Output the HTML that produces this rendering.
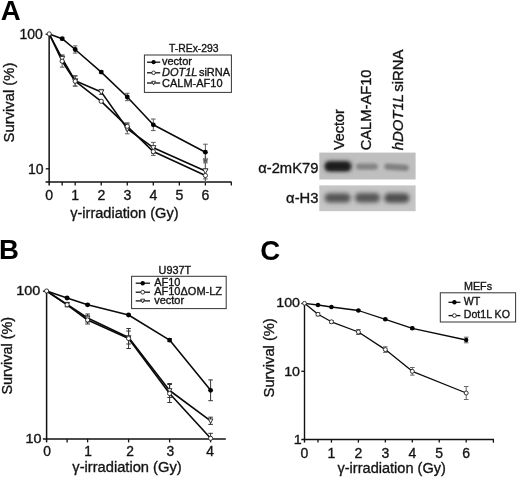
<!DOCTYPE html>
<html><head><meta charset="utf-8"><title>Figure</title>
<style>html,body{margin:0;padding:0;background:#fff}body{width:520px;height:479px;overflow:hidden}svg{display:block}svg text{font-family:"Liberation Sans",Arial,Helvetica,sans-serif}</style>
</head><body>
<svg width="520" height="479" viewBox="0 0 520 479">
<defs><filter id="b1" x="-20%" y="-50%" width="140%" height="200%"><feGaussianBlur stdDeviation="1.8"/></filter><filter id="b2" x="-20%" y="-50%" width="140%" height="200%"><feGaussianBlur stdDeviation="2.0"/></filter><filter id="b3" x="-30%" y="-60%" width="160%" height="220%"><feGaussianBlur stdDeviation="2.2"/></filter></defs>
<rect width="520" height="479" fill="#fff"/>
<text transform="translate(0.70,19.80)" font-size="27.6" text-anchor="start" font-weight="bold" fill="#000" >A</text>
<text transform="translate(-1.00,259.00)" font-size="27.6" text-anchor="start" font-weight="bold" fill="#000" >B</text>
<text transform="translate(260.30,259.60)" font-size="27.6" text-anchor="start" font-weight="bold" fill="#000" >C</text>
<line x1="49.15" y1="33.50" x2="49.15" y2="185.50" stroke="#111" stroke-width="1.5" stroke-linecap="butt"/>
<line x1="45.55" y1="182.00" x2="231.60" y2="182.00" stroke="#111" stroke-width="1.5" stroke-linecap="butt"/>
<line x1="62.17" y1="182.00" x2="62.17" y2="185.50" stroke="#111" stroke-width="1.3" stroke-linecap="butt"/>
<line x1="75.19" y1="182.00" x2="75.19" y2="185.50" stroke="#111" stroke-width="1.3" stroke-linecap="butt"/>
<line x1="101.23" y1="182.00" x2="101.23" y2="185.50" stroke="#111" stroke-width="1.3" stroke-linecap="butt"/>
<line x1="127.27" y1="182.00" x2="127.27" y2="185.50" stroke="#111" stroke-width="1.3" stroke-linecap="butt"/>
<line x1="153.31" y1="182.00" x2="153.31" y2="185.50" stroke="#111" stroke-width="1.3" stroke-linecap="butt"/>
<line x1="179.35" y1="182.00" x2="179.35" y2="185.50" stroke="#111" stroke-width="1.3" stroke-linecap="butt"/>
<line x1="205.39" y1="182.00" x2="205.39" y2="185.50" stroke="#111" stroke-width="1.3" stroke-linecap="butt"/>
<line x1="231.30" y1="182.00" x2="231.30" y2="185.60" stroke="#111" stroke-width="1.3" stroke-linecap="butt"/>
<line x1="45.75" y1="168.80" x2="49.15" y2="168.80" stroke="#111" stroke-width="1.3" stroke-linecap="butt"/>
<line x1="45.55" y1="34.20" x2="49.15" y2="34.20" stroke="#111" stroke-width="1.3" stroke-linecap="butt"/>
<text transform="translate(49.25,199.80)" font-size="14.1" text-anchor="middle" fill="#111" stroke="#1a1a1a" stroke-width="0.35" >0</text>
<text transform="translate(75.29,199.80)" font-size="14.1" text-anchor="middle" fill="#111" stroke="#1a1a1a" stroke-width="0.35" >1</text>
<text transform="translate(101.33,199.80)" font-size="14.1" text-anchor="middle" fill="#111" stroke="#1a1a1a" stroke-width="0.35" >2</text>
<text transform="translate(127.37,199.80)" font-size="14.1" text-anchor="middle" fill="#111" stroke="#1a1a1a" stroke-width="0.35" >3</text>
<text transform="translate(153.41,199.80)" font-size="14.1" text-anchor="middle" fill="#111" stroke="#1a1a1a" stroke-width="0.35" >4</text>
<text transform="translate(179.45,199.80)" font-size="14.1" text-anchor="middle" fill="#111" stroke="#1a1a1a" stroke-width="0.35" >5</text>
<text transform="translate(205.49,199.80)" font-size="14.1" text-anchor="middle" fill="#111" stroke="#1a1a1a" stroke-width="0.35" >6</text>
<text transform="translate(42.90,38.60)" font-size="14" text-anchor="end" fill="#111" stroke="#1a1a1a" stroke-width="0.35" >100</text>
<text transform="translate(43.50,173.70)" font-size="14" text-anchor="end" fill="#111" stroke="#1a1a1a" stroke-width="0.35" >10</text>
<text transform="translate(13.80,142.40) rotate(-90)" font-size="14.8" text-anchor="start" fill="#111" stroke="#1a1a1a" stroke-width="0.35" >Survival (%)</text>
<text transform="translate(70.20,217.50)" font-size="14.55" text-anchor="start" fill="#111" stroke="#1a1a1a" stroke-width="0.35" >γ-irradiation (Gy)</text>
<line x1="62.17" y1="37.50" x2="62.17" y2="39.90" stroke="#5a5a5a" stroke-width="1.0" stroke-linecap="butt"/>
<line x1="59.87" y1="37.50" x2="64.47" y2="37.50" stroke="#5a5a5a" stroke-width="1.0" stroke-linecap="butt"/>
<line x1="59.87" y1="39.90" x2="64.47" y2="39.90" stroke="#5a5a5a" stroke-width="1.0" stroke-linecap="butt"/>
<line x1="75.19" y1="45.90" x2="75.19" y2="53.10" stroke="#5a5a5a" stroke-width="1.0" stroke-linecap="butt"/>
<line x1="72.89" y1="45.90" x2="77.49" y2="45.90" stroke="#5a5a5a" stroke-width="1.0" stroke-linecap="butt"/>
<line x1="72.89" y1="53.10" x2="77.49" y2="53.10" stroke="#5a5a5a" stroke-width="1.0" stroke-linecap="butt"/>
<line x1="101.23" y1="70.90" x2="101.23" y2="73.30" stroke="#5a5a5a" stroke-width="1.0" stroke-linecap="butt"/>
<line x1="98.93" y1="70.90" x2="103.53" y2="70.90" stroke="#5a5a5a" stroke-width="1.0" stroke-linecap="butt"/>
<line x1="98.93" y1="73.30" x2="103.53" y2="73.30" stroke="#5a5a5a" stroke-width="1.0" stroke-linecap="butt"/>
<line x1="127.27" y1="93.30" x2="127.27" y2="100.70" stroke="#5a5a5a" stroke-width="1.0" stroke-linecap="butt"/>
<line x1="124.97" y1="93.30" x2="129.57" y2="93.30" stroke="#5a5a5a" stroke-width="1.0" stroke-linecap="butt"/>
<line x1="124.97" y1="100.70" x2="129.57" y2="100.70" stroke="#5a5a5a" stroke-width="1.0" stroke-linecap="butt"/>
<line x1="153.31" y1="119.00" x2="153.31" y2="130.60" stroke="#5a5a5a" stroke-width="1.0" stroke-linecap="butt"/>
<line x1="151.01" y1="119.00" x2="155.61" y2="119.00" stroke="#5a5a5a" stroke-width="1.0" stroke-linecap="butt"/>
<line x1="151.01" y1="130.60" x2="155.61" y2="130.60" stroke="#5a5a5a" stroke-width="1.0" stroke-linecap="butt"/>
<line x1="205.39" y1="144.20" x2="205.39" y2="160.20" stroke="#5a5a5a" stroke-width="1.0" stroke-linecap="butt"/>
<line x1="203.09" y1="144.20" x2="207.69" y2="144.20" stroke="#5a5a5a" stroke-width="1.0" stroke-linecap="butt"/>
<line x1="203.09" y1="160.20" x2="207.69" y2="160.20" stroke="#5a5a5a" stroke-width="1.0" stroke-linecap="butt"/>
<line x1="62.17" y1="55.20" x2="62.17" y2="67.20" stroke="#5a5a5a" stroke-width="1.0" stroke-linecap="butt"/>
<line x1="59.87" y1="55.20" x2="64.47" y2="55.20" stroke="#5a5a5a" stroke-width="1.0" stroke-linecap="butt"/>
<line x1="59.87" y1="67.20" x2="64.47" y2="67.20" stroke="#5a5a5a" stroke-width="1.0" stroke-linecap="butt"/>
<line x1="75.19" y1="76.20" x2="75.19" y2="86.20" stroke="#5a5a5a" stroke-width="1.0" stroke-linecap="butt"/>
<line x1="72.89" y1="76.20" x2="77.49" y2="76.20" stroke="#5a5a5a" stroke-width="1.0" stroke-linecap="butt"/>
<line x1="72.89" y1="86.20" x2="77.49" y2="86.20" stroke="#5a5a5a" stroke-width="1.0" stroke-linecap="butt"/>
<line x1="101.23" y1="100.10" x2="101.23" y2="102.50" stroke="#5a5a5a" stroke-width="1.0" stroke-linecap="butt"/>
<line x1="98.93" y1="100.10" x2="103.53" y2="100.10" stroke="#5a5a5a" stroke-width="1.0" stroke-linecap="butt"/>
<line x1="98.93" y1="102.50" x2="103.53" y2="102.50" stroke="#5a5a5a" stroke-width="1.0" stroke-linecap="butt"/>
<line x1="127.27" y1="122.80" x2="127.27" y2="129.80" stroke="#5a5a5a" stroke-width="1.0" stroke-linecap="butt"/>
<line x1="124.97" y1="122.80" x2="129.57" y2="122.80" stroke="#5a5a5a" stroke-width="1.0" stroke-linecap="butt"/>
<line x1="124.97" y1="129.80" x2="129.57" y2="129.80" stroke="#5a5a5a" stroke-width="1.0" stroke-linecap="butt"/>
<line x1="153.31" y1="147.80" x2="153.31" y2="155.40" stroke="#5a5a5a" stroke-width="1.0" stroke-linecap="butt"/>
<line x1="151.01" y1="147.80" x2="155.61" y2="147.80" stroke="#5a5a5a" stroke-width="1.0" stroke-linecap="butt"/>
<line x1="151.01" y1="155.40" x2="155.61" y2="155.40" stroke="#5a5a5a" stroke-width="1.0" stroke-linecap="butt"/>
<line x1="205.39" y1="169.00" x2="205.39" y2="182.00" stroke="#5a5a5a" stroke-width="1.0" stroke-linecap="butt"/>
<line x1="203.09" y1="169.00" x2="207.69" y2="169.00" stroke="#5a5a5a" stroke-width="1.0" stroke-linecap="butt"/>
<line x1="203.09" y1="182.00" x2="207.69" y2="182.00" stroke="#5a5a5a" stroke-width="1.0" stroke-linecap="butt"/>
<line x1="62.17" y1="55.00" x2="62.17" y2="62.00" stroke="#5a5a5a" stroke-width="1.0" stroke-linecap="butt"/>
<line x1="59.87" y1="55.00" x2="64.47" y2="55.00" stroke="#5a5a5a" stroke-width="1.0" stroke-linecap="butt"/>
<line x1="59.87" y1="62.00" x2="64.47" y2="62.00" stroke="#5a5a5a" stroke-width="1.0" stroke-linecap="butt"/>
<line x1="75.19" y1="75.60" x2="75.19" y2="86.00" stroke="#5a5a5a" stroke-width="1.0" stroke-linecap="butt"/>
<line x1="72.89" y1="75.60" x2="77.49" y2="75.60" stroke="#5a5a5a" stroke-width="1.0" stroke-linecap="butt"/>
<line x1="72.89" y1="86.00" x2="77.49" y2="86.00" stroke="#5a5a5a" stroke-width="1.0" stroke-linecap="butt"/>
<line x1="101.23" y1="89.40" x2="101.23" y2="94.40" stroke="#5a5a5a" stroke-width="1.0" stroke-linecap="butt"/>
<line x1="98.93" y1="89.40" x2="103.53" y2="89.40" stroke="#5a5a5a" stroke-width="1.0" stroke-linecap="butt"/>
<line x1="98.93" y1="94.40" x2="103.53" y2="94.40" stroke="#5a5a5a" stroke-width="1.0" stroke-linecap="butt"/>
<line x1="127.27" y1="123.80" x2="127.27" y2="133.80" stroke="#5a5a5a" stroke-width="1.0" stroke-linecap="butt"/>
<line x1="124.97" y1="123.80" x2="129.57" y2="123.80" stroke="#5a5a5a" stroke-width="1.0" stroke-linecap="butt"/>
<line x1="124.97" y1="133.80" x2="129.57" y2="133.80" stroke="#5a5a5a" stroke-width="1.0" stroke-linecap="butt"/>
<line x1="153.31" y1="142.40" x2="153.31" y2="153.00" stroke="#5a5a5a" stroke-width="1.0" stroke-linecap="butt"/>
<line x1="151.01" y1="142.40" x2="155.61" y2="142.40" stroke="#5a5a5a" stroke-width="1.0" stroke-linecap="butt"/>
<line x1="151.01" y1="153.00" x2="155.61" y2="153.00" stroke="#5a5a5a" stroke-width="1.0" stroke-linecap="butt"/>
<line x1="205.39" y1="162.90" x2="205.39" y2="178.90" stroke="#5a5a5a" stroke-width="1.0" stroke-linecap="butt"/>
<line x1="203.09" y1="162.90" x2="207.69" y2="162.90" stroke="#5a5a5a" stroke-width="1.0" stroke-linecap="butt"/>
<line x1="203.09" y1="178.90" x2="207.69" y2="178.90" stroke="#5a5a5a" stroke-width="1.0" stroke-linecap="butt"/>
<line x1="205.39" y1="150.00" x2="205.39" y2="181.50" stroke="#666" stroke-width="0.9" stroke-linecap="butt"/>
<polyline fill="none" stroke="#0a0a0a" stroke-width="1.6" stroke-linejoin="round" points="49.20,33.90 62.17,38.70 75.19,49.50 101.23,72.10 127.27,97.00 153.31,124.80 205.39,152.20"/>
<polyline fill="none" stroke="#0a0a0a" stroke-width="1.6" stroke-linejoin="round" points="49.20,33.90 62.17,61.20 75.19,81.20 101.23,101.30 127.27,126.30 153.31,151.60 205.39,175.50"/>
<polyline fill="none" stroke="#0a0a0a" stroke-width="1.6" stroke-linejoin="round" points="49.20,33.90 62.17,58.50 75.19,80.80 101.23,91.90 127.27,128.80 153.31,147.70 205.39,170.90"/>
<polygon points="59.57,56.42 64.77,56.42 62.17,61.36" fill="#fff" stroke="#222" stroke-width="0.9"/>
<polygon points="72.59,78.72 77.79,78.72 75.19,83.66" fill="#fff" stroke="#222" stroke-width="0.9"/>
<polygon points="98.63,89.82 103.83,89.82 101.23,94.76" fill="#fff" stroke="#222" stroke-width="0.9"/>
<polygon points="124.67,126.72 129.87,126.72 127.27,131.66" fill="#fff" stroke="#222" stroke-width="0.9"/>
<polygon points="150.71,145.62 155.91,145.62 153.31,150.56" fill="#fff" stroke="#222" stroke-width="0.9"/>
<polygon points="202.79,168.82 207.99,168.82 205.39,173.76" fill="#fff" stroke="#222" stroke-width="0.9"/>
<circle cx="62.17" cy="61.20" r="2.1" fill="#fff" stroke="#222" stroke-width="0.9"/>
<circle cx="75.19" cy="81.20" r="2.1" fill="#fff" stroke="#222" stroke-width="0.9"/>
<circle cx="101.23" cy="101.30" r="2.1" fill="#fff" stroke="#222" stroke-width="0.9"/>
<circle cx="127.27" cy="126.30" r="2.1" fill="#fff" stroke="#222" stroke-width="0.9"/>
<circle cx="153.31" cy="151.60" r="2.1" fill="#fff" stroke="#222" stroke-width="0.9"/>
<circle cx="205.39" cy="175.50" r="2.1" fill="#fff" stroke="#222" stroke-width="0.9"/>
<circle cx="62.17" cy="38.70" r="2.4" fill="#000"/>
<circle cx="75.19" cy="49.50" r="2.4" fill="#000"/>
<circle cx="101.23" cy="72.10" r="2.4" fill="#000"/>
<circle cx="127.27" cy="97.00" r="2.4" fill="#000"/>
<circle cx="153.31" cy="124.80" r="2.4" fill="#000"/>
<circle cx="205.39" cy="152.20" r="2.4" fill="#000"/>
<circle cx="49.20" cy="33.90" r="2.1" fill="#fff" stroke="#222" stroke-width="0.9"/>
<text transform="translate(205.40,167.00)" font-size="14" text-anchor="middle" fill="#8a8a8a" stroke="#1a1a1a" stroke-width="0.35" >*</text>
<rect x="144.4" y="55.0" width="87.0" height="37.4" fill="#fff" stroke="#333" stroke-width="1"/>
<text transform="translate(193.80,51.50)" font-size="10.4" text-anchor="middle" fill="#111" stroke="#1a1a1a" stroke-width="0.35" >T-REx-293</text>
<line x1="147.00" y1="62.20" x2="160.20" y2="62.20" stroke="#111" stroke-width="1.3" stroke-linecap="butt"/>
<line x1="147.00" y1="72.80" x2="160.20" y2="72.80" stroke="#111" stroke-width="1.3" stroke-linecap="butt"/>
<line x1="147.00" y1="83.00" x2="160.20" y2="83.00" stroke="#111" stroke-width="1.3" stroke-linecap="butt"/>
<circle cx="153.60" cy="62.20" r="2.1" fill="#000"/>
<circle cx="153.60" cy="72.80" r="1.8" fill="#fff" stroke="#222" stroke-width="0.9"/>
<polygon points="151.70,81.28 155.50,81.28 153.60,84.89" fill="#fff" stroke="#222" stroke-width="0.9"/>
<text transform="translate(162.00,64.70)" font-size="11" text-anchor="start" fill="#111" stroke="#1a1a1a" stroke-width="0.35" >vector</text>
<text transform="translate(162.00,76.40)" font-size="11" text-anchor="start" fill="#111" stroke="#1a1a1a" stroke-width="0.35" ><tspan font-style="italic">DOT1L</tspan><tspan dx="-1.6"> siRNA</tspan></text>
<text transform="translate(162.00,87.10)" font-size="11" text-anchor="start" fill="#111" stroke="#1a1a1a" stroke-width="0.35" >CALM-AF10</text>
<rect x="319.3" y="152.6" width="96.3" height="26.9" fill="#bfbfbf"/>
<rect x="319.3" y="185.4" width="96.3" height="25.8" fill="#c5c5c5"/>
<g filter="url(#b3)">
<rect x="324.5" y="161.0" width="27.5" height="10.6" rx="5" fill="#4a4a4a"/>
</g><g filter="url(#b1)">
<rect x="325.5" y="162.2" width="24.5" height="8.2" rx="4" fill="#1c1c1c"/>
<rect x="356.0" y="163.4" width="21.8" height="6.4" rx="3" fill="#848484"/>
<rect x="384.3" y="164.0" width="24.5" height="6.4" rx="3" fill="#808080" transform="rotate(4 396 167)"/>
</g><g filter="url(#b2)">
<rect x="324.6" y="193.2" width="26.0" height="9.4" rx="4.5" fill="#545454"/>
<rect x="355.0" y="193.0" width="25.0" height="9.6" rx="4.5" fill="#565656"/>
<rect x="384.2" y="193.2" width="25.2" height="9.6" rx="4.5" fill="#4e4e4e"/>
</g>
<text transform="translate(344.10,150.00) rotate(-90)" font-size="14.45" text-anchor="start" fill="#111" stroke="#1a1a1a" stroke-width="0.35" >Vector</text>
<text transform="translate(371.20,150.30) rotate(-90)" font-size="14.7" text-anchor="start" fill="#111" stroke="#1a1a1a" stroke-width="0.35" >CALM-AF10</text>
<text transform="translate(402.90,150.30) rotate(-90)" font-size="14.9" text-anchor="start" fill="#111" stroke="#1a1a1a" stroke-width="0.35" ><tspan font-style="italic">hDOT1L</tspan><tspan dx="-1.8"> siRNA</tspan></text>
<text transform="translate(318.40,172.60)" font-size="14.75" text-anchor="end" fill="#111" stroke="#1a1a1a" stroke-width="0.35" >α-2mK79</text>
<text transform="translate(318.40,203.40)" font-size="14.75" text-anchor="end" fill="#111" stroke="#1a1a1a" stroke-width="0.35" >α-H3</text>
<line x1="46.60" y1="290.50" x2="46.60" y2="442.40" stroke="#111" stroke-width="1.5" stroke-linecap="butt"/>
<line x1="42.90" y1="438.90" x2="225.80" y2="438.90" stroke="#111" stroke-width="1.5" stroke-linecap="butt"/>
<line x1="67.10" y1="438.90" x2="67.10" y2="442.40" stroke="#111" stroke-width="1.3" stroke-linecap="butt"/>
<line x1="87.60" y1="438.90" x2="87.60" y2="442.40" stroke="#111" stroke-width="1.3" stroke-linecap="butt"/>
<line x1="128.60" y1="438.90" x2="128.60" y2="442.40" stroke="#111" stroke-width="1.3" stroke-linecap="butt"/>
<line x1="169.60" y1="438.90" x2="169.60" y2="442.40" stroke="#111" stroke-width="1.3" stroke-linecap="butt"/>
<line x1="210.60" y1="438.90" x2="210.60" y2="442.40" stroke="#111" stroke-width="1.3" stroke-linecap="butt"/>
<line x1="42.90" y1="291.20" x2="46.60" y2="291.20" stroke="#111" stroke-width="1.3" stroke-linecap="butt"/>
<text transform="translate(47.10,456.00)" font-size="13.8" text-anchor="middle" fill="#111" stroke="#1a1a1a" stroke-width="0.35" >0</text>
<text transform="translate(88.00,456.00)" font-size="13.8" text-anchor="middle" fill="#111" stroke="#1a1a1a" stroke-width="0.35" >1</text>
<text transform="translate(130.20,456.00)" font-size="13.8" text-anchor="middle" fill="#111" stroke="#1a1a1a" stroke-width="0.35" >2</text>
<text transform="translate(170.40,456.00)" font-size="13.8" text-anchor="middle" fill="#111" stroke="#1a1a1a" stroke-width="0.35" >3</text>
<text transform="translate(210.20,456.00)" font-size="13.8" text-anchor="middle" fill="#111" stroke="#1a1a1a" stroke-width="0.35" >4</text>
<text transform="translate(40.30,295.40) scale(1.2,1.0)" font-size="12" text-anchor="end" fill="#111" stroke="#1a1a1a" stroke-width="0.35" >100</text>
<text transform="translate(41.50,442.70) scale(1.2,1.0)" font-size="12" text-anchor="end" fill="#111" stroke="#1a1a1a" stroke-width="0.35" >10</text>
<text transform="translate(12.20,394.50) rotate(-90)" font-size="14.4" text-anchor="start" fill="#111" stroke="#1a1a1a" stroke-width="0.35" >Survival (%)</text>
<text transform="translate(72.30,472.00)" font-size="14.7" text-anchor="start" fill="#111" stroke="#1a1a1a" stroke-width="0.35" >γ-irradiation (Gy)</text>
<line x1="67.10" y1="297.20" x2="67.10" y2="298.80" stroke="#333" stroke-width="1.0" stroke-linecap="butt"/>
<line x1="64.80" y1="297.20" x2="69.40" y2="297.20" stroke="#333" stroke-width="1.0" stroke-linecap="butt"/>
<line x1="64.80" y1="298.80" x2="69.40" y2="298.80" stroke="#333" stroke-width="1.0" stroke-linecap="butt"/>
<line x1="87.60" y1="304.00" x2="87.60" y2="305.60" stroke="#333" stroke-width="1.0" stroke-linecap="butt"/>
<line x1="85.30" y1="304.00" x2="89.90" y2="304.00" stroke="#333" stroke-width="1.0" stroke-linecap="butt"/>
<line x1="85.30" y1="305.60" x2="89.90" y2="305.60" stroke="#333" stroke-width="1.0" stroke-linecap="butt"/>
<line x1="128.60" y1="314.20" x2="128.60" y2="315.80" stroke="#333" stroke-width="1.0" stroke-linecap="butt"/>
<line x1="126.30" y1="314.20" x2="130.90" y2="314.20" stroke="#333" stroke-width="1.0" stroke-linecap="butt"/>
<line x1="126.30" y1="315.80" x2="130.90" y2="315.80" stroke="#333" stroke-width="1.0" stroke-linecap="butt"/>
<line x1="169.60" y1="338.60" x2="169.60" y2="341.60" stroke="#333" stroke-width="1.0" stroke-linecap="butt"/>
<line x1="167.30" y1="338.60" x2="171.90" y2="338.60" stroke="#333" stroke-width="1.0" stroke-linecap="butt"/>
<line x1="167.30" y1="341.60" x2="171.90" y2="341.60" stroke="#333" stroke-width="1.0" stroke-linecap="butt"/>
<line x1="210.60" y1="379.90" x2="210.60" y2="400.70" stroke="#333" stroke-width="1.0" stroke-linecap="butt"/>
<line x1="208.30" y1="379.90" x2="212.90" y2="379.90" stroke="#333" stroke-width="1.0" stroke-linecap="butt"/>
<line x1="208.30" y1="400.70" x2="212.90" y2="400.70" stroke="#333" stroke-width="1.0" stroke-linecap="butt"/>
<line x1="67.10" y1="302.80" x2="67.10" y2="306.80" stroke="#333" stroke-width="1.0" stroke-linecap="butt"/>
<line x1="64.80" y1="302.80" x2="69.40" y2="302.80" stroke="#333" stroke-width="1.0" stroke-linecap="butt"/>
<line x1="64.80" y1="306.80" x2="69.40" y2="306.80" stroke="#333" stroke-width="1.0" stroke-linecap="butt"/>
<line x1="87.60" y1="316.00" x2="87.60" y2="324.00" stroke="#333" stroke-width="1.0" stroke-linecap="butt"/>
<line x1="85.30" y1="316.00" x2="89.90" y2="316.00" stroke="#333" stroke-width="1.0" stroke-linecap="butt"/>
<line x1="85.30" y1="324.00" x2="89.90" y2="324.00" stroke="#333" stroke-width="1.0" stroke-linecap="butt"/>
<line x1="128.60" y1="328.50" x2="128.60" y2="348.50" stroke="#333" stroke-width="1.0" stroke-linecap="butt"/>
<line x1="126.30" y1="328.50" x2="130.90" y2="328.50" stroke="#333" stroke-width="1.0" stroke-linecap="butt"/>
<line x1="126.30" y1="348.50" x2="130.90" y2="348.50" stroke="#333" stroke-width="1.0" stroke-linecap="butt"/>
<line x1="169.60" y1="384.50" x2="169.60" y2="402.50" stroke="#333" stroke-width="1.0" stroke-linecap="butt"/>
<line x1="167.30" y1="384.50" x2="171.90" y2="384.50" stroke="#333" stroke-width="1.0" stroke-linecap="butt"/>
<line x1="167.30" y1="402.50" x2="171.90" y2="402.50" stroke="#333" stroke-width="1.0" stroke-linecap="butt"/>
<line x1="210.60" y1="433.30" x2="210.60" y2="438.30" stroke="#333" stroke-width="1.0" stroke-linecap="butt"/>
<line x1="208.30" y1="433.30" x2="212.90" y2="433.30" stroke="#333" stroke-width="1.0" stroke-linecap="butt"/>
<line x1="208.30" y1="438.30" x2="212.90" y2="438.30" stroke="#333" stroke-width="1.0" stroke-linecap="butt"/>
<line x1="67.10" y1="302.40" x2="67.10" y2="306.40" stroke="#333" stroke-width="1.0" stroke-linecap="butt"/>
<line x1="64.80" y1="302.40" x2="69.40" y2="302.40" stroke="#333" stroke-width="1.0" stroke-linecap="butt"/>
<line x1="64.80" y1="306.40" x2="69.40" y2="306.40" stroke="#333" stroke-width="1.0" stroke-linecap="butt"/>
<line x1="87.60" y1="314.00" x2="87.60" y2="322.00" stroke="#333" stroke-width="1.0" stroke-linecap="butt"/>
<line x1="85.30" y1="314.00" x2="89.90" y2="314.00" stroke="#333" stroke-width="1.0" stroke-linecap="butt"/>
<line x1="85.30" y1="322.00" x2="89.90" y2="322.00" stroke="#333" stroke-width="1.0" stroke-linecap="butt"/>
<line x1="128.60" y1="331.00" x2="128.60" y2="344.00" stroke="#333" stroke-width="1.0" stroke-linecap="butt"/>
<line x1="126.30" y1="331.00" x2="130.90" y2="331.00" stroke="#333" stroke-width="1.0" stroke-linecap="butt"/>
<line x1="126.30" y1="344.00" x2="130.90" y2="344.00" stroke="#333" stroke-width="1.0" stroke-linecap="butt"/>
<line x1="169.60" y1="383.50" x2="169.60" y2="397.50" stroke="#333" stroke-width="1.0" stroke-linecap="butt"/>
<line x1="167.30" y1="383.50" x2="171.90" y2="383.50" stroke="#333" stroke-width="1.0" stroke-linecap="butt"/>
<line x1="167.30" y1="397.50" x2="171.90" y2="397.50" stroke="#333" stroke-width="1.0" stroke-linecap="butt"/>
<line x1="210.60" y1="417.20" x2="210.60" y2="424.40" stroke="#333" stroke-width="1.0" stroke-linecap="butt"/>
<line x1="208.30" y1="417.20" x2="212.90" y2="417.20" stroke="#333" stroke-width="1.0" stroke-linecap="butt"/>
<line x1="208.30" y1="424.40" x2="212.90" y2="424.40" stroke="#333" stroke-width="1.0" stroke-linecap="butt"/>
<polyline fill="none" stroke="#0a0a0a" stroke-width="1.6" stroke-linejoin="round" points="46.60,291.00 67.10,298.00 87.60,304.80 128.60,315.00 169.60,340.10 210.60,390.30"/>
<polyline fill="none" stroke="#0a0a0a" stroke-width="1.6" stroke-linejoin="round" points="46.60,291.00 67.10,304.80 87.60,320.00 128.60,338.50 169.60,393.50 210.60,438.30"/>
<polyline fill="none" stroke="#0a0a0a" stroke-width="1.6" stroke-linejoin="round" points="46.60,291.00 67.10,304.40 87.60,318.00 128.60,337.50 169.60,390.50 210.60,420.80"/>
<polygon points="64.80,302.56 69.40,302.56 67.10,306.93" fill="#fff" stroke="#222" stroke-width="0.9"/>
<polygon points="85.30,316.16 89.90,316.16 87.60,320.53" fill="#fff" stroke="#222" stroke-width="0.9"/>
<polygon points="126.30,335.66 130.90,335.66 128.60,340.03" fill="#fff" stroke="#222" stroke-width="0.9"/>
<polygon points="167.30,388.66 171.90,388.66 169.60,393.03" fill="#fff" stroke="#222" stroke-width="0.9"/>
<polygon points="208.30,418.96 212.90,418.96 210.60,423.33" fill="#fff" stroke="#222" stroke-width="0.9"/>
<circle cx="67.10" cy="304.80" r="2.1" fill="#fff" stroke="#222" stroke-width="0.9"/>
<circle cx="87.60" cy="320.00" r="2.1" fill="#fff" stroke="#222" stroke-width="0.9"/>
<circle cx="128.60" cy="338.50" r="2.1" fill="#fff" stroke="#222" stroke-width="0.9"/>
<circle cx="169.60" cy="393.50" r="2.1" fill="#fff" stroke="#222" stroke-width="0.9"/>
<circle cx="210.60" cy="438.30" r="2.1" fill="#fff" stroke="#222" stroke-width="0.9"/>
<circle cx="67.10" cy="298.00" r="2.4" fill="#000"/>
<circle cx="87.60" cy="304.80" r="2.4" fill="#000"/>
<circle cx="128.60" cy="315.00" r="2.4" fill="#000"/>
<circle cx="169.60" cy="340.10" r="2.4" fill="#000"/>
<circle cx="210.60" cy="390.30" r="2.4" fill="#000"/>
<circle cx="46.60" cy="291.00" r="2.1" fill="#fff" stroke="#222" stroke-width="0.9"/>
<rect x="131.6" y="276.3" width="94.6" height="32.3" fill="#fff" stroke="#333" stroke-width="1"/>
<text transform="translate(174.80,273.50) scale(1.05,1.0)" font-size="10.3" text-anchor="middle" fill="#111" stroke="#1a1a1a" stroke-width="0.35" >U937T</text>
<line x1="135.70" y1="283.20" x2="150.00" y2="283.20" stroke="#111" stroke-width="1.3" stroke-linecap="butt"/>
<line x1="135.70" y1="292.20" x2="150.00" y2="292.20" stroke="#111" stroke-width="1.3" stroke-linecap="butt"/>
<line x1="135.70" y1="300.90" x2="150.00" y2="300.90" stroke="#111" stroke-width="1.3" stroke-linecap="butt"/>
<circle cx="142.70" cy="283.20" r="2.2" fill="#000"/>
<circle cx="142.70" cy="292.20" r="1.9" fill="#fff" stroke="#222" stroke-width="0.9"/>
<polygon points="140.70,299.20 144.70,299.20 142.70,303.00" fill="#fff" stroke="#222" stroke-width="0.9"/>
<text transform="translate(154.20,285.90)" font-size="11" text-anchor="start" fill="#111" stroke="#1a1a1a" stroke-width="0.35" >AF10</text>
<text transform="translate(154.20,295.10)" font-size="11" text-anchor="start" fill="#111" stroke="#1a1a1a" stroke-width="0.35" >AF10ΔOM-LZ</text>
<text transform="translate(154.20,304.30)" font-size="11" text-anchor="start" fill="#111" stroke="#1a1a1a" stroke-width="0.35" >vector</text>
<line x1="304.50" y1="302.80" x2="304.50" y2="442.60" stroke="#111" stroke-width="1.4" stroke-linecap="butt"/>
<line x1="301.30" y1="439.40" x2="494.00" y2="439.40" stroke="#111" stroke-width="1.45" stroke-linecap="butt"/>
<line x1="317.98" y1="439.40" x2="317.98" y2="442.60" stroke="#111" stroke-width="1.3" stroke-linecap="butt"/>
<line x1="331.45" y1="439.40" x2="331.45" y2="442.60" stroke="#111" stroke-width="1.3" stroke-linecap="butt"/>
<line x1="358.40" y1="439.40" x2="358.40" y2="442.60" stroke="#111" stroke-width="1.3" stroke-linecap="butt"/>
<line x1="385.35" y1="439.40" x2="385.35" y2="442.60" stroke="#111" stroke-width="1.3" stroke-linecap="butt"/>
<line x1="412.30" y1="439.40" x2="412.30" y2="442.60" stroke="#111" stroke-width="1.3" stroke-linecap="butt"/>
<line x1="439.25" y1="439.40" x2="439.25" y2="442.60" stroke="#111" stroke-width="1.3" stroke-linecap="butt"/>
<line x1="466.20" y1="439.40" x2="466.20" y2="442.60" stroke="#111" stroke-width="1.3" stroke-linecap="butt"/>
<line x1="493.40" y1="439.40" x2="493.40" y2="442.70" stroke="#111" stroke-width="1.3" stroke-linecap="butt"/>
<line x1="301.30" y1="371.30" x2="304.50" y2="371.30" stroke="#111" stroke-width="1.3" stroke-linecap="butt"/>
<line x1="301.30" y1="303.50" x2="304.50" y2="303.50" stroke="#111" stroke-width="1.3" stroke-linecap="butt"/>
<text transform="translate(304.50,458.00)" font-size="14" text-anchor="middle" fill="#111" stroke="#1a1a1a" stroke-width="0.35" >0</text>
<text transform="translate(331.45,458.00)" font-size="14" text-anchor="middle" fill="#111" stroke="#1a1a1a" stroke-width="0.35" >1</text>
<text transform="translate(358.40,458.00)" font-size="14" text-anchor="middle" fill="#111" stroke="#1a1a1a" stroke-width="0.35" >2</text>
<text transform="translate(385.35,458.00)" font-size="14" text-anchor="middle" fill="#111" stroke="#1a1a1a" stroke-width="0.35" >3</text>
<text transform="translate(412.30,458.00)" font-size="14" text-anchor="middle" fill="#111" stroke="#1a1a1a" stroke-width="0.35" >4</text>
<text transform="translate(439.25,458.00)" font-size="14" text-anchor="middle" fill="#111" stroke="#1a1a1a" stroke-width="0.35" >5</text>
<text transform="translate(466.20,458.00)" font-size="14" text-anchor="middle" fill="#111" stroke="#1a1a1a" stroke-width="0.35" >6</text>
<text transform="translate(300.00,307.00) scale(1.08,1.0)" font-size="13.2" text-anchor="end" fill="#111" stroke="#1a1a1a" stroke-width="0.35" >100</text>
<text transform="translate(300.00,375.50) scale(1.08,1.0)" font-size="13.2" text-anchor="end" fill="#111" stroke="#1a1a1a" stroke-width="0.35" >10</text>
<text transform="translate(301.60,443.60) scale(1.08,1.0)" font-size="13.2" text-anchor="end" fill="#111" stroke="#1a1a1a" stroke-width="0.35" >1</text>
<text transform="translate(273.70,397.40) rotate(-90)" font-size="14.7" text-anchor="start" fill="#111" stroke="#1a1a1a" stroke-width="0.35" >Survival (%)</text>
<text transform="translate(337.50,472.50)" font-size="14.55" text-anchor="start" fill="#111" stroke="#1a1a1a" stroke-width="0.35" >γ-irradiation (Gy)</text>
<line x1="317.98" y1="304.40" x2="317.98" y2="305.60" stroke="#666" stroke-width="1.0" stroke-linecap="butt"/>
<line x1="315.68" y1="304.40" x2="320.28" y2="304.40" stroke="#666" stroke-width="1.0" stroke-linecap="butt"/>
<line x1="315.68" y1="305.60" x2="320.28" y2="305.60" stroke="#666" stroke-width="1.0" stroke-linecap="butt"/>
<line x1="331.45" y1="306.40" x2="331.45" y2="307.60" stroke="#666" stroke-width="1.0" stroke-linecap="butt"/>
<line x1="329.15" y1="306.40" x2="333.75" y2="306.40" stroke="#666" stroke-width="1.0" stroke-linecap="butt"/>
<line x1="329.15" y1="307.60" x2="333.75" y2="307.60" stroke="#666" stroke-width="1.0" stroke-linecap="butt"/>
<line x1="358.40" y1="309.70" x2="358.40" y2="311.30" stroke="#666" stroke-width="1.0" stroke-linecap="butt"/>
<line x1="356.10" y1="309.70" x2="360.70" y2="309.70" stroke="#666" stroke-width="1.0" stroke-linecap="butt"/>
<line x1="356.10" y1="311.30" x2="360.70" y2="311.30" stroke="#666" stroke-width="1.0" stroke-linecap="butt"/>
<line x1="385.35" y1="318.30" x2="385.35" y2="320.30" stroke="#666" stroke-width="1.0" stroke-linecap="butt"/>
<line x1="383.05" y1="318.30" x2="387.65" y2="318.30" stroke="#666" stroke-width="1.0" stroke-linecap="butt"/>
<line x1="383.05" y1="320.30" x2="387.65" y2="320.30" stroke="#666" stroke-width="1.0" stroke-linecap="butt"/>
<line x1="412.30" y1="327.10" x2="412.30" y2="329.50" stroke="#666" stroke-width="1.0" stroke-linecap="butt"/>
<line x1="410.00" y1="327.10" x2="414.60" y2="327.10" stroke="#666" stroke-width="1.0" stroke-linecap="butt"/>
<line x1="410.00" y1="329.50" x2="414.60" y2="329.50" stroke="#666" stroke-width="1.0" stroke-linecap="butt"/>
<line x1="466.20" y1="337.20" x2="466.20" y2="342.80" stroke="#666" stroke-width="1.0" stroke-linecap="butt"/>
<line x1="463.90" y1="337.20" x2="468.50" y2="337.20" stroke="#666" stroke-width="1.0" stroke-linecap="butt"/>
<line x1="463.90" y1="342.80" x2="468.50" y2="342.80" stroke="#666" stroke-width="1.0" stroke-linecap="butt"/>
<line x1="317.98" y1="312.80" x2="317.98" y2="315.80" stroke="#666" stroke-width="1.0" stroke-linecap="butt"/>
<line x1="315.68" y1="312.80" x2="320.28" y2="312.80" stroke="#666" stroke-width="1.0" stroke-linecap="butt"/>
<line x1="315.68" y1="315.80" x2="320.28" y2="315.80" stroke="#666" stroke-width="1.0" stroke-linecap="butt"/>
<line x1="331.45" y1="320.60" x2="331.45" y2="323.00" stroke="#666" stroke-width="1.0" stroke-linecap="butt"/>
<line x1="329.15" y1="320.60" x2="333.75" y2="320.60" stroke="#666" stroke-width="1.0" stroke-linecap="butt"/>
<line x1="329.15" y1="323.00" x2="333.75" y2="323.00" stroke="#666" stroke-width="1.0" stroke-linecap="butt"/>
<line x1="358.40" y1="329.50" x2="358.40" y2="334.50" stroke="#666" stroke-width="1.0" stroke-linecap="butt"/>
<line x1="356.10" y1="329.50" x2="360.70" y2="329.50" stroke="#666" stroke-width="1.0" stroke-linecap="butt"/>
<line x1="356.10" y1="334.50" x2="360.70" y2="334.50" stroke="#666" stroke-width="1.0" stroke-linecap="butt"/>
<line x1="385.35" y1="346.80" x2="385.35" y2="352.40" stroke="#666" stroke-width="1.0" stroke-linecap="butt"/>
<line x1="383.05" y1="346.80" x2="387.65" y2="346.80" stroke="#666" stroke-width="1.0" stroke-linecap="butt"/>
<line x1="383.05" y1="352.40" x2="387.65" y2="352.40" stroke="#666" stroke-width="1.0" stroke-linecap="butt"/>
<line x1="412.30" y1="367.50" x2="412.30" y2="375.10" stroke="#666" stroke-width="1.0" stroke-linecap="butt"/>
<line x1="410.00" y1="367.50" x2="414.60" y2="367.50" stroke="#666" stroke-width="1.0" stroke-linecap="butt"/>
<line x1="410.00" y1="375.10" x2="414.60" y2="375.10" stroke="#666" stroke-width="1.0" stroke-linecap="butt"/>
<line x1="466.20" y1="386.50" x2="466.20" y2="399.50" stroke="#666" stroke-width="1.0" stroke-linecap="butt"/>
<line x1="463.90" y1="386.50" x2="468.50" y2="386.50" stroke="#666" stroke-width="1.0" stroke-linecap="butt"/>
<line x1="463.90" y1="399.50" x2="468.50" y2="399.50" stroke="#666" stroke-width="1.0" stroke-linecap="butt"/>
<polyline fill="none" stroke="#0a0a0a" stroke-width="1.3" stroke-linejoin="round" points="304.50,303.30 317.98,305.00 331.45,307.00 358.40,310.50 385.35,319.30 412.30,328.30 466.20,340.00"/>
<polyline fill="none" stroke="#0a0a0a" stroke-width="1.3" stroke-linejoin="round" points="304.50,303.30 317.98,314.30 331.45,321.80 358.40,332.00 385.35,349.60 412.30,371.30 466.20,393.00"/>
<circle cx="317.98" cy="314.30" r="2.0" fill="#fff" stroke="#222" stroke-width="0.9"/>
<circle cx="331.45" cy="321.80" r="2.0" fill="#fff" stroke="#222" stroke-width="0.9"/>
<circle cx="358.40" cy="332.00" r="2.0" fill="#fff" stroke="#222" stroke-width="0.9"/>
<circle cx="385.35" cy="349.60" r="2.0" fill="#fff" stroke="#222" stroke-width="0.9"/>
<circle cx="412.30" cy="371.30" r="2.0" fill="#fff" stroke="#222" stroke-width="0.9"/>
<circle cx="466.20" cy="393.00" r="2.0" fill="#fff" stroke="#222" stroke-width="0.9"/>
<circle cx="317.98" cy="305.00" r="2.2" fill="#000"/>
<circle cx="331.45" cy="307.00" r="2.2" fill="#000"/>
<circle cx="358.40" cy="310.50" r="2.2" fill="#000"/>
<circle cx="385.35" cy="319.30" r="2.2" fill="#000"/>
<circle cx="412.30" cy="328.30" r="2.2" fill="#000"/>
<circle cx="466.20" cy="340.00" r="2.2" fill="#000"/>
<circle cx="304.50" cy="303.30" r="1.9" fill="#fff" stroke="#222" stroke-width="0.9"/>
<rect x="440.3" y="292.8" width="75.3" height="29.2" fill="#fff" stroke="#333" stroke-width="1"/>
<text transform="translate(478.00,289.60)" font-size="10.8" text-anchor="middle" fill="#111" stroke="#1a1a1a" stroke-width="0.35" >MEFs</text>
<line x1="448.50" y1="302.30" x2="460.40" y2="302.30" stroke="#111" stroke-width="1.3" stroke-linecap="butt"/>
<line x1="448.50" y1="315.60" x2="460.40" y2="315.60" stroke="#111" stroke-width="1.3" stroke-linecap="butt"/>
<circle cx="454.40" cy="302.30" r="2.2" fill="#000"/>
<circle cx="454.40" cy="315.60" r="1.9" fill="#fff" stroke="#222" stroke-width="0.9"/>
<text transform="translate(463.80,305.30)" font-size="10.6" text-anchor="start" fill="#111" stroke="#1a1a1a" stroke-width="0.35" >WT</text>
<text transform="translate(463.80,318.10)" font-size="10.6" text-anchor="start" fill="#111" stroke="#1a1a1a" stroke-width="0.35" >Dot1L KO</text>
</svg>
</body></html>
